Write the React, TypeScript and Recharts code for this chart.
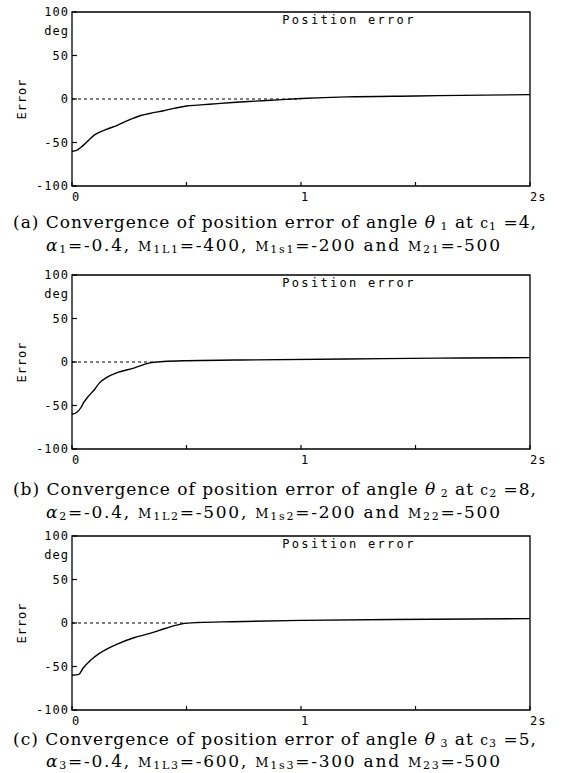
import React from 'react';
import { LineChart, Line, XAxis, YAxis, ReferenceLine, ReferenceArea } from 'recharts';

// ---------- data ----------
const timeA = [0, 0.02, 0.05, 0.1, 0.15, 0.2, 0.25, 0.3, 0.35, 0.4, 0.45, 0.5, 0.55, 0.6, 0.7, 0.8, 0.9, 1.0, 1.2, 1.5, 1.8, 2.0];
const errorA = [-60, -59, -53, -41, -35, -30, -24, -19, -16, -13.5, -10.5, -8, -7, -6, -4, -2.5, -1, 0.5, 2.5, 3.5, 4.5, 5];

const timeB = [0, 0.02, 0.04, 0.05, 0.07, 0.1, 0.12, 0.15, 0.2, 0.27, 0.34, 0.4, 0.5, 0.8, 1.2, 1.6, 2.0];
const errorB = [-60, -58, -52, -47, -40, -31, -24, -18, -12, -7, -1, 0.5, 1.5, 2.5, 3.5, 4.5, 5];

const timeC = [0, 0.03, 0.048, 0.08, 0.12, 0.16, 0.2, 0.27, 0.34, 0.41, 0.48, 0.55, 0.7, 1.0, 1.4, 2.0];
const errorC = [-60, -59, -52, -43, -35, -29, -24, -17, -12, -6, -1, 0.5, 1.5, 3, 4, 5];

// time at which the dotted zero line ends for each panel
const zeroLineEnd = [1.0, 0.36, 0.5];

const xTickValues = [0, 0.5, 1, 1.5, 2];
const xTickLabels = ['0', '', '1', '', '2s'];
const yTickValues = [-100, -50, 0, 50, 100];
const yTickLabels = ['-100', '-50', '0', '50', '100'];

const panelTitle = 'Position error';
const yAxisName = 'Error';
const yUnit = 'deg';

type Cap = {
  tag: string; idx: string; c: string; a: string; mL: string; mS: string; m2: string;
};
const captions: Cap[] = [
  { tag: '(a)', idx: '1', c: '4', a: '-0.4', mL: '-400', mS: '-200', m2: '-500' },
  { tag: '(b)', idx: '2', c: '8', a: '-0.4', mL: '-500', mS: '-200', m2: '-500' },
  { tag: '(c)', idx: '3', c: '5', a: '-0.4', mL: '-600', mS: '-300', m2: '-500' },
];

// ---------- layout ----------
const W = 571;
const PLOT_LEFT = 72;
const PLOT_RIGHT = 530;
const PLOT_TOP = 12;
const PLOT_H = 174;
const PLOT_BOTTOM = PLOT_TOP + PLOT_H;
const X_AXIS_H = 24;
const CHART_H = PLOT_BOTTOM + X_AXIS_H;
const panelTops = [0, 263, 524];
const captionY = [[228, 251], [232, 255], [221, 243]];

const monoFont = '"DejaVu Sans Mono", monospace';
const serifFont = '"DejaVu Serif", "Liberation Serif", serif';

const series = [
  { t: timeA, e: errorA },
  { t: timeB, e: errorB },
  { t: timeC, e: errorC },
];

const renderXTick = (props: any) => {
  const { x, index } = props;
  const label = xTickLabels[index] ?? '';
  return (
    <g key={`xt-${index}`}>
      <line x1={x} x2={x} y1={PLOT_BOTTOM} y2={PLOT_BOTTOM - 4} stroke="#000" strokeWidth={1.2} />
      {label !== '' && (
        <text x={x} y={PLOT_BOTTOM + 15} textAnchor="start" fontFamily={monoFont} fontSize={12} letterSpacing={1} fill="#000">
          {label}
        </text>
      )}
    </g>
  );
};

const renderYTick = (props: any) => {
  const { y, index } = props;
  const label = yTickLabels[index] ?? '';
  return (
    <g key={`yt-${index}`}>
      <line x1={PLOT_LEFT} x2={PLOT_LEFT + 5} y1={y} y2={y} stroke="#000" strokeWidth={1.2} />
      <text x={PLOT_LEFT - 3} y={y + 4} textAnchor="end" fontFamily={monoFont} fontSize={12} letterSpacing={1} fill="#000">
        {label}
      </text>
    </g>
  );
};

const Panel = ({ i }: { i: number }) => {
  const s = series[i];
  const data = s.t.map((t, k) => ({ t, e: s.e[k] }));
  return (
    <div style={{ position: 'absolute', left: 0, top: panelTops[i], width: W, height: CHART_H }}>
      <LineChart
        width={W}
        height={CHART_H}
        data={data}
        margin={{ top: PLOT_TOP, right: W - PLOT_RIGHT, left: 0, bottom: 0 }}
      >
        <XAxis
          dataKey="t"
          type="number"
          domain={[0, 2]}
          ticks={xTickValues}
          height={X_AXIS_H}
          axisLine={false}
          tickLine={false}
          tick={renderXTick}
          interval={0}
        />
        <YAxis
          type="number"
          domain={[-100, 100]}
          ticks={yTickValues}
          width={PLOT_LEFT}
          axisLine={false}
          tickLine={false}
          tick={renderYTick}
          interval={0}
        />
        <ReferenceArea x1={0} x2={2} y1={-100} y2={100} fill="none" stroke="#000" strokeWidth={1.3} ifOverflow="visible" />
        <ReferenceLine
          segment={[{ x: 0, y: 0 }, { x: zeroLineEnd[i], y: 0 }]}
          stroke="#000"
          strokeWidth={1.1}
          strokeDasharray="3 3"
          ifOverflow="visible"
        />
        <Line
          dataKey="e"
          type="monotone"
          stroke="#000"
          strokeWidth={1.4}
          dot={false}
          isAnimationActive={false}
        />
      </LineChart>
    </div>
  );
};

const Caption = ({ i }: { i: number }) => {
  const c = captions[i];
  const top = panelTops[i];
  const [y1, y2] = captionY[i];
  const sub = { fontSize: 11 };
  return (
    <g fontFamily={serifFont} fill="#000">
      <text x={13} y={top + y1} fontSize={17} textLength={523} lengthAdjust="spacing">
        {c.tag} Convergence of position error of angle{' '}
        <tspan fontStyle="italic">θ</tspan>
        <tspan {...sub} dy={2}>{' '}{c.idx}</tspan>
        <tspan dy={-2}> at </tspan>
        <tspan fontSize={14}>c</tspan>
        <tspan {...sub} dy={2}>{c.idx}</tspan>
        <tspan dy={-2}>{' '}={c.c},</tspan>
      </text>
      <text x={46} y={top + y2} fontSize={17} textLength={454} lengthAdjust="spacing">
        <tspan fontStyle="italic">α</tspan>
        <tspan {...sub} dy={2}>{c.idx}</tspan>
        <tspan dy={-2}>={c.a}, </tspan>
        <tspan fontSize={13}>M</tspan>
        <tspan {...sub} dy={2}>1L{c.idx}</tspan>
        <tspan dy={-2}>={c.mL}, </tspan>
        <tspan fontSize={13}>M</tspan>
        <tspan {...sub} dy={2}>1s{c.idx}</tspan>
        <tspan dy={-2}>={c.mS} and </tspan>
        <tspan fontSize={13}>M</tspan>
        <tspan {...sub} dy={2}>2{c.idx}</tspan>
        <tspan dy={-2}>={c.m2}</tspan>
      </text>
    </g>
  );
};

const Overlay = () => (
  <svg
    width={W}
    height={773}
    style={{ position: 'absolute', left: 0, top: 0, pointerEvents: 'none' }}
  >
    {panelTops.map((top, i) => (
      <g key={i}>
        <text x={69} y={top + 35} textAnchor="end" fontFamily={monoFont} fontSize={12} letterSpacing={1} fill="#000">
          {yUnit}
        </text>
        <text
          x={26}
          y={top + PLOT_TOP + PLOT_H / 2}
          transform={`rotate(-90 26 ${top + PLOT_TOP + PLOT_H / 2})`}
          textAnchor="middle"
          fontFamily={monoFont}
          fontSize={12}
          letterSpacing={1}
          fill="#000"
        >
          {yAxisName}
        </text>
        <text x={349} y={top + 24} textAnchor="middle" fontFamily={monoFont} fontSize={12} letterSpacing={2.3} fill="#000">
          {panelTitle}
        </text>
        <Caption i={i} />
      </g>
    ))}
  </svg>
);

export default function App() {
  return (
    <div style={{ position: 'absolute', left: 0, top: 0, width: W, height: 773, background: '#fff' }}>
      {panelTops.map((_, i) => (
        <Panel key={i} i={i} />
      ))}
      <Overlay />
    </div>
  );
}
